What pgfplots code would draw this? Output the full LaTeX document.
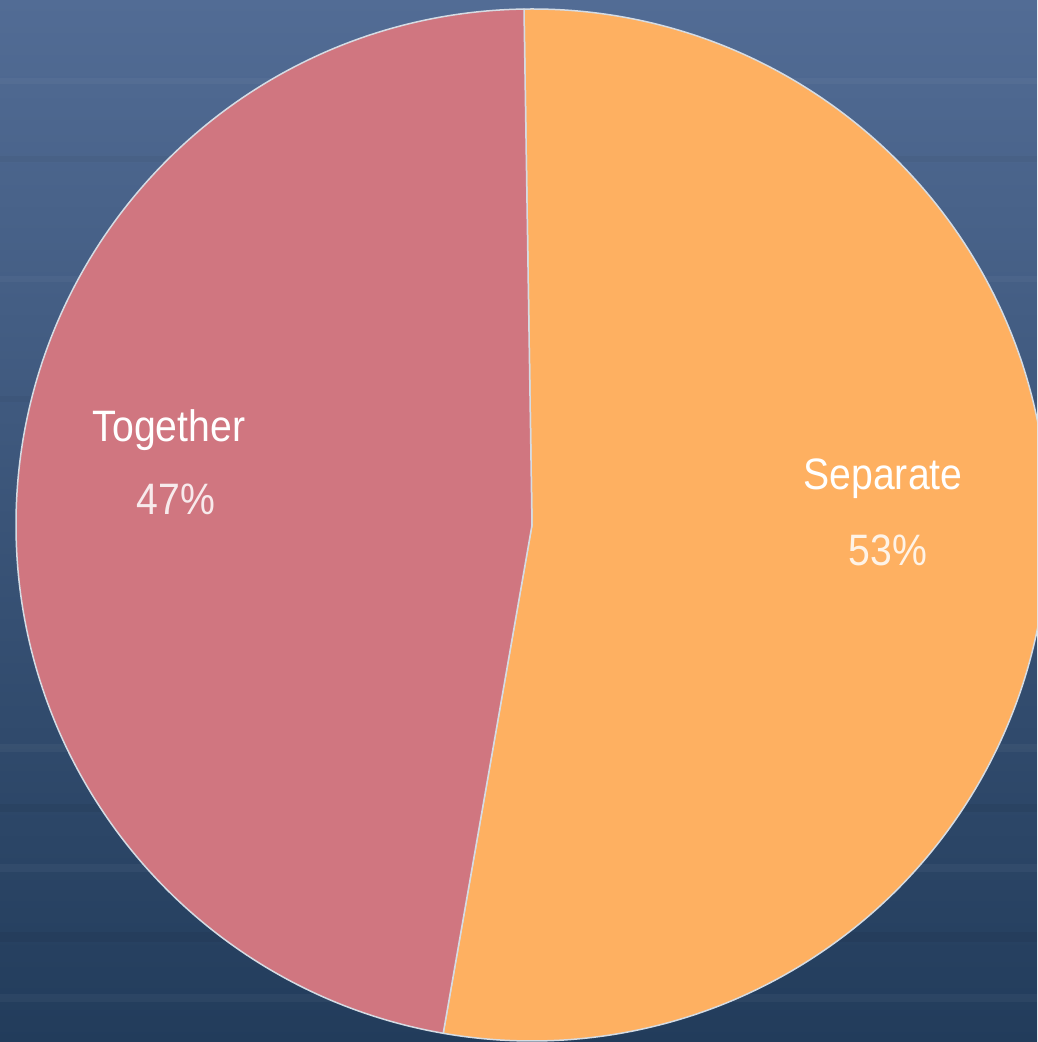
\documentclass[border=0pt]{standalone}
\usepackage{pgfplots}
\pgfplotsset{compat=1.18}
\usepackage{fontspec}
\setmainfont[FakeStretch=0.89]{Liberation Sans}
\definecolor{bgtop}{HTML}{526C95}
\definecolor{bgmid}{HTML}{3B5880}
\definecolor{bgbot}{HTML}{223C5B}
\definecolor{together}{HTML}{D07680}
\definecolor{separate}{HTML}{FEB061}
\definecolor{edge}{HTML}{D5DCE4}
% data (percent)
\def\valTogether{47.0}
\def\valSeparate{53.0}
\pgfmathsetmacro{\sa}{90.89}
\pgfmathsetmacro{\ea}{\sa+3.6*\valTogether}
\pgfmathsetmacro{\eb}{\sa-3.6*\valSeparate}
\begin{document}
\begin{tikzpicture}
\clip (0,0) rectangle (1037pt,1042pt);
\begin{axis}[
  at={(0,0)}, anchor=south west,
  width=1037pt, height=1042pt, scale only axis,
  xmin=0, xmax=1037, ymin=0, ymax=1042,
  hide axis, clip=true,
]
% background
\fill[top color=bgtop, middle color=bgmid, bottom color=bgbot]
  (axis cs:0,0) rectangle (axis cs:1037,1042);
\fill[white, opacity=0.035] (axis cs:0,958) rectangle (axis cs:1037,964);
\fill[black, opacity=0.04] (axis cs:0,880) rectangle (axis cs:1037,886);
\fill[white, opacity=0.035] (axis cs:0,760) rectangle (axis cs:1037,766);
\fill[black, opacity=0.04] (axis cs:0,640) rectangle (axis cs:1037,646);
\fill[white, opacity=0.04] (axis cs:0,290) rectangle (axis cs:1037,298);
\fill[black, opacity=0.05] (axis cs:0,230) rectangle (axis cs:1037,238);
\fill[white, opacity=0.04] (axis cs:0,170) rectangle (axis cs:1037,178);
\fill[black, opacity=0.05] (axis cs:0,100) rectangle (axis cs:1037,110);
\fill[white, opacity=0.04] (axis cs:0,40) rectangle (axis cs:1037,48);
% Separate slice
\filldraw[fill=separate, draw=edge, line width=1.5pt, line join=round]
  (axis cs:532,517) -- ++(\sa:516pt) arc[start angle=\sa, end angle=\eb, radius=516pt] -- cycle;
% Together slice
\filldraw[fill=together, draw=edge, line width=1.5pt, line join=round]
  (axis cs:532,517) -- ++(\sa:516pt) arc[start angle=\sa, end angle=\ea, radius=516pt] -- cycle;
% labels
\node[white, font=\fontsize{44}{50}\selectfont] at (axis cs:169,612) {Together};
\node[white, opacity=0.85, font=\fontsize{44}{50}\selectfont] at (axis cs:176,543) {47\%};
\node[white, font=\fontsize{44}{50}\selectfont] at (axis cs:883,563) {Separate};
\node[white, opacity=0.85, font=\fontsize{44}{50}\selectfont] at (axis cs:888,492) {53\%};
\end{axis}
\end{tikzpicture}
\end{document}
